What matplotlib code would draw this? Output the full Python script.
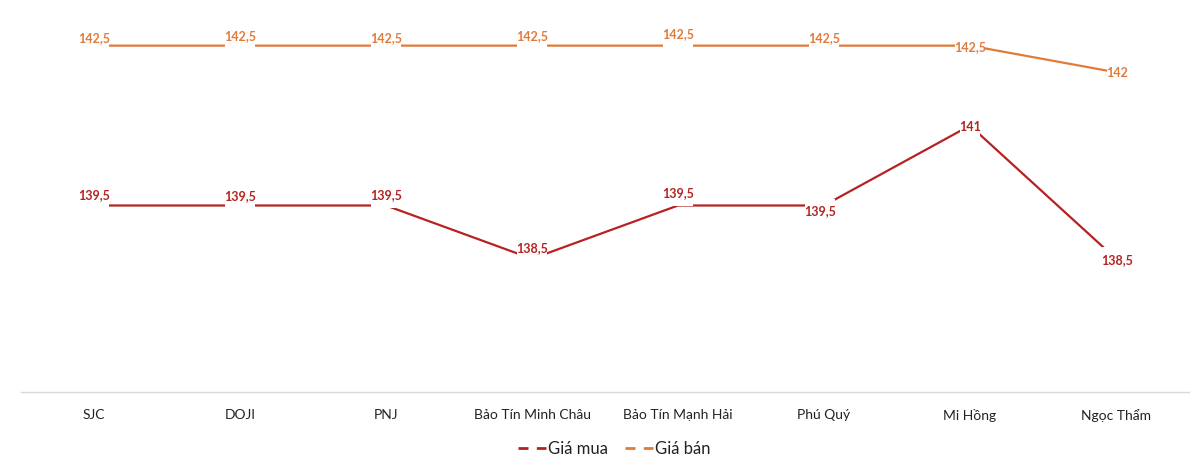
import matplotlib
matplotlib.use('Agg')
import matplotlib.pyplot as plt
from matplotlib.lines import Line2D
from matplotlib.path import Path

plt.rcParams['font.family'] = ['Lato', 'Noto Sans', 'DejaVu Sans']

# dữ liệu
cong_ty = ['SJC', 'DOJI', 'PNJ', 'Bảo Tín Minh Châu', 'Bảo Tín Mạnh Hải',
           'Phú Quý', 'Mi Hồng', 'Ngọc Thẩm']
gia_mua = [139.5, 139.5, 139.5, 138.5, 139.5, 139.5, 141, 138.5]
gia_ban = [142.5, 142.5, 142.5, 142.5, 142.5, 142.5, 142.5, 142]

# vị trí nhãn (pixel lệch so với điểm)
lech_mua = [(0, 10), (0, 9), (0, 10), (0, 11), (0, 12), (-4, -6), (0, -1), (1, -1)]
lech_ban = [(0, 8), (0, 10), (0, 8), (0, 10), (0, 12), (0, 8), (0, -1), (1, -1)]

mau_mua = '#B5221F'
mau_ban = '#E07B39'

def nhan(v):
    s = f'{v:g}'
    return s.replace('.', ',')

# hộp nền trắng: hẹp theo chiều ngang, cao theo chiều dọc (giống nhãn Excel)
def hop(x0, y0, width, height, mutation_size):
    px = -0.05 * mutation_size
    py = 0.55 * mutation_size
    x1, y1 = x0 - px, y0 - py
    x2, y2 = x0 + width + px, y0 + height + py
    return Path([(x1, y1), (x2, y1), (x2, y2), (x1, y2), (x1, y1)], closed=True)

fig = plt.figure(figsize=(12, 4.58), dpi=100)
ax = fig.add_axes([21/1200, 66/458, 1168/1200, 373/458])

x = list(range(len(cong_ty)))
ax.plot(x, gia_mua, color=mau_mua, lw=1.6, zorder=2)
ax.plot(x, gia_ban, color=mau_ban, lw=1.6, zorder=2)

for xi, v, d in zip(x, gia_mua, lech_mua):
    ax.annotate(nhan(v), (xi, v), xytext=d, textcoords='offset pixels',
                ha='center', va='center', fontsize=9, fontweight='bold',
                color=mau_mua, zorder=3,
                bbox=dict(boxstyle=hop, fc='white', ec='none'))
for xi, v, d in zip(x, gia_ban, lech_ban):
    ax.annotate(nhan(v), (xi, v), xytext=d, textcoords='offset pixels',
                ha='center', va='center', fontsize=9, fontweight='bold',
                color=mau_ban, zorder=3,
                bbox=dict(boxstyle=hop, fc='white', ec='none'))

ax.set_xlim(-0.5, len(cong_ty) - 0.5)
ax.set_ylim(136, 143)
ax.set_xticks(x)
ax.set_xticklabels(cong_ty, fontsize=10, color='#222222')
ax.tick_params(axis='x', length=0, pad=12)
ax.set_yticks([])
for s in ['top', 'right', 'left']:
    ax.spines[s].set_visible(False)
ax.spines['bottom'].set_color('#D9D9D9')
ax.spines['bottom'].set_linewidth(1)

handles = [Line2D([], [], color=mau_mua, lw=2, ls=(0, (3.6, 3))),
           Line2D([], [], color=mau_ban, lw=2, ls=(0, (3.6, 3)))]
fig.legend(handles, ['Giá mua', 'Giá bán'], loc='center',
           bbox_to_anchor=(614/1200, 1 - 449/458), ncol=2, frameon=False,
           fontsize=12, handlelength=1.7, handletextpad=0.1, columnspacing=1.0,
           labelcolor='#222222')

fig.savefig('out.png', dpi=100)
